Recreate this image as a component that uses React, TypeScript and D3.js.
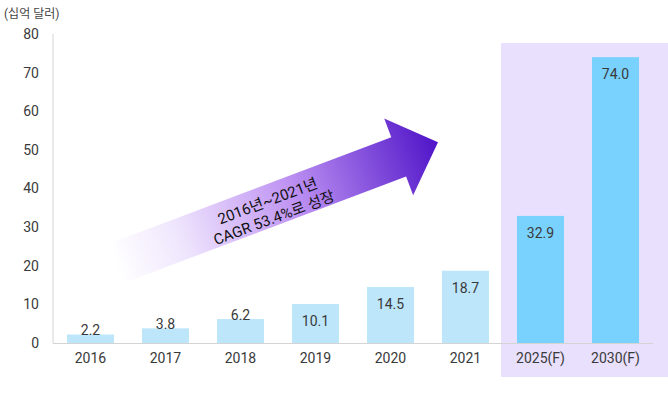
import { useRef, useEffect } from 'react'
import * as d3 from 'd3'

const categories = ['2016', '2017', '2018', '2019', '2020', '2021', '2025(F)', '2030(F)']
const values = [2.2, 3.8, 6.2, 10.1, 14.5, 18.7, 32.9, 74.0]
const forecast = [false, false, false, false, false, false, true, true]
const yTicks = [0, 10, 20, 30, 40, 50, 60, 70, 80]
const unitLabel = '(십억 달러)'
const arrowLines = ['2016년~2021년', 'CAGR 53.4%로 성장']

const W = 668
const H = 396
const FONT = "Roboto, 'Noto Sans CJK KR', sans-serif"

export default function App() {
  const svgRef = useRef<SVGSVGElement>(null)

  useEffect(() => {
    if (!svgRef.current) return
    const svg = d3.select(svgRef.current)
    svg.selectAll('*').remove()

    const left = 53
    const right = 653
    const top = 34
    const bottom = 343

    const x = d3
      .scaleBand<string>()
      .domain(categories)
      .range([left, right])
      .paddingInner(0.373)
      .paddingOuter(0.1865)
    const y = d3.scaleLinear().domain([0, 80]).range([bottom, top])
    const step = x.step()

    // forecast highlight
    const firstF = categories[forecast.indexOf(true)]
    svg
      .append('rect')
      .attr('x', x(firstF)! - (step - x.bandwidth()) / 2 - 2)
      .attr('y', 43)
      .attr('width', W)
      .attr('height', 334)
      .attr('fill', '#E8E0FD')

    // axes lines
    svg
      .append('line')
      .attr('x1', left)
      .attr('x2', left)
      .attr('y1', top)
      .attr('y2', bottom)
      .attr('stroke', '#d4d4d4')
    svg
      .append('line')
      .attr('x1', left)
      .attr('x2', right)
      .attr('y1', bottom + 0.5)
      .attr('y2', bottom + 0.5)
      .attr('stroke', '#d4d4d4')

    // y tick labels
    svg
      .append('g')
      .selectAll('text')
      .data(yTicks)
      .join('text')
      .attr('x', 39)
      .attr('y', (d) => y(d))
      .attr('dy', '0.35em')
      .attr('text-anchor', 'end')
      .attr('font-family', FONT)
      .attr('font-size', 14)
      .attr('fill', '#3a3a3a')
      .text((d) => d)

    svg
      .append('text')
      .attr('x', 4)
      .attr('y', 18)
      .attr('font-family', FONT)
      .attr('font-size', 12)
      .attr('fill', '#444')
      .text(unitLabel)

    // bars
    svg
      .append('g')
      .selectAll('rect')
      .data(values)
      .join('rect')
      .attr('x', (_, i) => x(categories[i])!)
      .attr('y', (d) => y(d))
      .attr('width', x.bandwidth())
      .attr('height', (d) => bottom - y(d))
      .attr('fill', (_, i) => (forecast[i] ? '#79D1FD' : '#BDE6FB'))

    // value labels
    svg
      .append('g')
      .selectAll('text')
      .data(values)
      .join('text')
      .attr('x', (_, i) => x(categories[i])! + x.bandwidth() / 2)
      .attr('y', (d) => (d < 8 ? y(d) - 4 : y(d) + 17))
      .attr('dy', '0.35em')
      .attr('text-anchor', 'middle')
      .attr('font-family', FONT)
      .attr('font-size', 14)
      .attr('fill', '#3a3a3a')
      .text((d) => d.toFixed(1))

    // x labels
    svg
      .append('g')
      .selectAll('text')
      .data(categories)
      .join('text')
      .attr('x', (d) => x(d)! + x.bandwidth() / 2)
      .attr('y', 358)
      .attr('dy', '0.35em')
      .attr('text-anchor', 'middle')
      .attr('font-family', FONT)
      .attr('font-size', 14)
      .attr('fill', '#3a3a3a')
      .text((d) => d)

    // growth arrow
    const tailX = x('2016')! + x.bandwidth() + 1
    const tailY = y(20.5)
    const tipX = x('2021')! - 4
    const tipY = y(52)
    const len = Math.hypot(tipX - tailX, tipY - tailY)
    const ang = (Math.atan2(tipY - tailY, tipX - tailX) * 180) / Math.PI
    const headLen = 42
    const shaftHalf = 21
    const headHalf = 41

    const defs = svg.append('defs')
    const grad = defs
      .append('linearGradient')
      .attr('id', 'arrowGrad')
      .attr('x1', 0)
      .attr('x2', 1)
      .attr('y1', 0)
      .attr('y2', 0)
    grad.append('stop').attr('offset', 0).attr('stop-color', '#ffffff')
    grad.append('stop').attr('offset', 0.2).attr('stop-color', '#efe6fd')
    grad.append('stop').attr('offset', 0.55).attr('stop-color', '#bf93f3')
    grad.append('stop').attr('offset', 1).attr('stop-color', '#4f14c8')

    const ag = svg.append('g').attr('transform', `translate(${tailX},${tailY}) rotate(${ang})`)
    const pts: [number, number][] = [
      [0, -shaftHalf],
      [len - headLen, -shaftHalf],
      [len - headLen, -headHalf],
      [len, 0],
      [len - headLen, headHalf],
      [len - headLen, shaftHalf],
      [0, shaftHalf],
    ]
    ag.append('path')
      .attr('d', d3.line()(pts) + 'Z')
      .attr('fill', 'url(#arrowGrad)')

    ag.append('g')
      .selectAll('text')
      .data(arrowLines)
      .join('text')
      .attr('x', 165)
      .attr('y', (_, i) => -5 + i * 18)
      .attr('dy', '0.35em')
      .attr('text-anchor', 'middle')
      .attr('font-family', FONT)
      .attr('font-size', 15)
      .attr('fill', '#111')
      .text((d) => d)
  }, [])

  return (
    <div style={{ position: 'absolute', left: 0, top: 0 }}>
      <svg ref={svgRef} width={W} height={H} style={{ display: 'block', background: '#fff' }} />
    </div>
  )
}
